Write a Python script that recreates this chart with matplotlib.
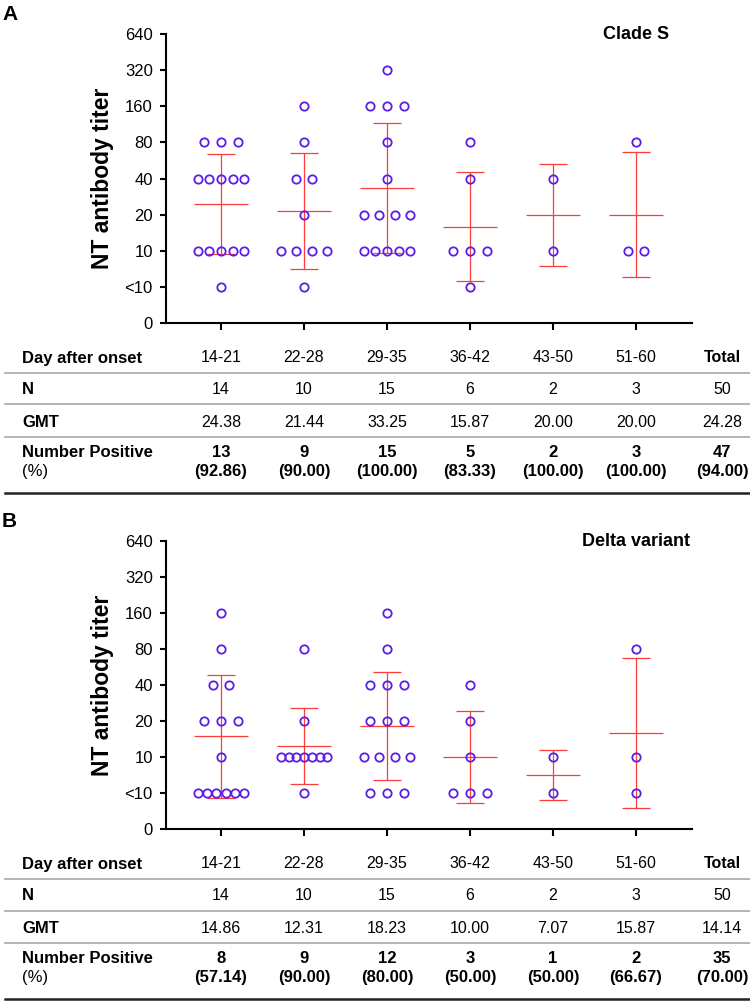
import numpy as np
import matplotlib
matplotlib.use('Agg')
import matplotlib.pyplot as plt
from matplotlib.lines import Line2D
from matplotlib.transforms import blended_transform_factory

plt.rcParams['font.family'] = ['Liberation Sans', 'DejaVu Sans']

# Grupos de dias despues del inicio
dias = ['14-21', '22-28', '29-35', '36-42', '43-50', '51-60']

# Titulos NT por grupo (<10 se codifica como 5)
titulos_clade_s = [
    [80, 80, 80, 40, 40, 40, 40, 40, 10, 10, 10, 10, 10, 5],
    [160, 80, 40, 40, 20, 10, 10, 10, 10, 5],
    [320, 160, 160, 160, 80, 40, 20, 20, 20, 20, 10, 10, 10, 10, 10],
    [80, 40, 10, 10, 10, 5],
    [40, 10],
    [80, 10, 10],
]
titulos_delta = [
    [160, 80, 40, 40, 20, 20, 20, 10, 5, 5, 5, 5, 5, 5],
    [80, 20, 10, 10, 10, 10, 10, 10, 10, 5],
    [160, 80, 40, 40, 40, 20, 20, 20, 10, 10, 10, 10, 5, 5, 5],
    [40, 20, 10, 5, 5, 5],
    [10, 5],
    [80, 10, 5],
]

# Valores de las tablas (ultima columna = Total)
n_clade_s = ['14', '10', '15', '6', '2', '3', '50']
gmt_clade_s = ['24.38', '21.44', '33.25', '15.87', '20.00', '20.00', '24.28']
pos_clade_s = ['13', '9', '15', '5', '2', '3', '47']
pct_clade_s = ['92.86', '90.00', '100.00', '83.33', '100.00', '100.00', '94.00']

n_delta = ['14', '10', '15', '6', '2', '3', '50']
gmt_delta = ['14.86', '12.31', '18.23', '10.00', '7.07', '15.87', '14.14']
pos_delta = ['8', '9', '12', '3', '1', '2', '35']
pct_delta = ['57.14', '90.00', '80.00', '50.00', '50.00', '66.67', '70.00']

etiquetas_y = ['0', '<10', '10', '20', '40', '80', '160', '320', '640']

COLOR_PUNTO = '#5A1EE4'
COLOR_ROJO = '#FF3C3C'
W, H = 750, 1001


def nivel(titulos):
    # 0 -> 0, <10 -> 1, 10 -> 2, 20 -> 3 ...
    return np.log2(np.asarray(titulos, dtype=float) / 10.0) + 2


def posiciones_x(centro, niveles):
    """Reparte horizontalmente los puntos que comparten el mismo nivel"""
    xs = np.zeros(len(niveles))
    for v in np.unique(niveles):
        idx = np.where(niveles == v)[0]
        k = len(idx)
        paso = min(0.2, 0.56 / (k - 1)) if k > 1 else 0
        xs[idx] = centro + (np.arange(k) - (k - 1) / 2) * paso
    return xs


def fy(px):
    return 1 - px / H


def dibujar_panel(fig, y_top, y_bot, letra, titulo, titulos, n, gmt, pos, pct):
    ax = fig.add_axes([166 / W, fy(y_bot), 526 / W, (y_bot - y_top) / H])

    for i, t in enumerate(titulos):
        centro = i + 1
        niv = nivel(t)
        media = niv.mean()
        sd = niv.std(ddof=1)
        ax.vlines(centro, media - sd, media + sd, color=COLOR_ROJO, lw=0.9, zorder=2)
        ax.hlines([media - sd, media + sd], centro - 0.165, centro + 0.165,
                  color=COLOR_ROJO, lw=0.9, zorder=2)
        ax.hlines(media, centro - 0.33, centro + 0.33, color=COLOR_ROJO, lw=0.9, zorder=2)
        ax.plot(posiciones_x(centro, niv), niv, 'o', mfc='none', mec=COLOR_PUNTO,
                ms=6, mew=1.3, zorder=3, clip_on=False)

    ax.set_xlim(0.337, 6.675)
    ax.set_ylim(0, 8)
    ax.set_xticks(range(1, 7))
    ax.set_xticklabels([])
    ax.set_yticks(range(9))
    ax.set_yticklabels(etiquetas_y)
    ax.tick_params(axis='x', length=5, width=1.5, direction='out')
    ax.tick_params(axis='y', length=4.5, width=1.5, direction='out', labelsize=12, pad=5)
    for lado in ['top', 'right']:
        ax.spines[lado].set_visible(False)
    for lado in ['left', 'bottom']:
        ax.spines[lado].set_linewidth(1.5)

    ax.text(-0.12, 0.5, 'NT antibody titer', transform=ax.transAxes, rotation=90,
            ha='center', va='center', fontsize=16.5, fontweight='bold')
    ax.text(6, 8, titulo, ha='center', va='center', fontsize=13, fontweight='bold')
    fig.text(2 / W, fy(y_top - 29), letra, ha='left', va='top', fontsize=15, fontweight='bold')

    # Tabla debajo del grafico
    trans = blended_transform_factory(ax.transData, fig.transFigure)
    cols = list(range(1, 7)) + [7.04]
    x_lab = 22 / W

    y_dia = fy(y_bot + 35)
    fig.text(x_lab, y_dia, 'Day after onset', ha='left', va='center', fontsize=12, fontweight='bold')
    for c, d in zip(cols, dias):
        ax.text(c, y_dia, d, transform=trans, ha='center', va='center', fontsize=11.5)
    ax.text(cols[-1], y_dia, 'Total', transform=trans, ha='center', va='center',
            fontsize=11.5, fontweight='bold')

    y_n = fy(y_bot + 67)
    fig.text(x_lab, y_n, 'N', ha='left', va='center', fontsize=12, fontweight='bold')
    for c, v in zip(cols, n):
        ax.text(c, y_n, v, transform=trans, ha='center', va='center', fontsize=11.5)

    y_g = fy(y_bot + 99.5)
    fig.text(x_lab, y_g, 'GMT', ha='left', va='center', fontsize=12, fontweight='bold')
    for c, v in zip(cols, gmt):
        ax.text(c, y_g, v, transform=trans, ha='center', va='center', fontsize=11.5)

    y_p1 = fy(y_bot + 129.5)
    y_p2 = fy(y_bot + 148.5)
    fig.text(x_lab, y_p1, 'Number Positive', ha='left', va='center', fontsize=12, fontweight='bold')
    fig.text(x_lab, y_p2, '(%)', ha='left', va='center', fontsize=12)
    for c, v, p in zip(cols, pos, pct):
        ax.text(c, y_p1, v, transform=trans, ha='center', va='center', fontsize=12, fontweight='bold')
        ax.text(c, y_p2, '(' + p + ')', transform=trans, ha='center', va='center',
                fontsize=12, fontweight='bold')

    for off in [50, 81.5, 113.7]:
        fig.add_artist(Line2D([5 / W, 1], [fy(y_bot + off)] * 2, transform=fig.transFigure,
                              color='#a8a8a8', lw=1.2))
    fig.add_artist(Line2D([5 / W, 1], [fy(y_bot + 169.5)] * 2, transform=fig.transFigure,
                          color='#222222', lw=1.8))
    return ax


fig = plt.figure(figsize=(W / 100, H / 100), dpi=100)
dibujar_panel(fig, 34, 323, 'A', 'Clade S', titulos_clade_s,
              n_clade_s, gmt_clade_s, pos_clade_s, pct_clade_s)
dibujar_panel(fig, 541, 829, 'B', 'Delta variant', titulos_delta,
              n_delta, gmt_delta, pos_delta, pct_delta)
fig.savefig('out.png', dpi=100)
